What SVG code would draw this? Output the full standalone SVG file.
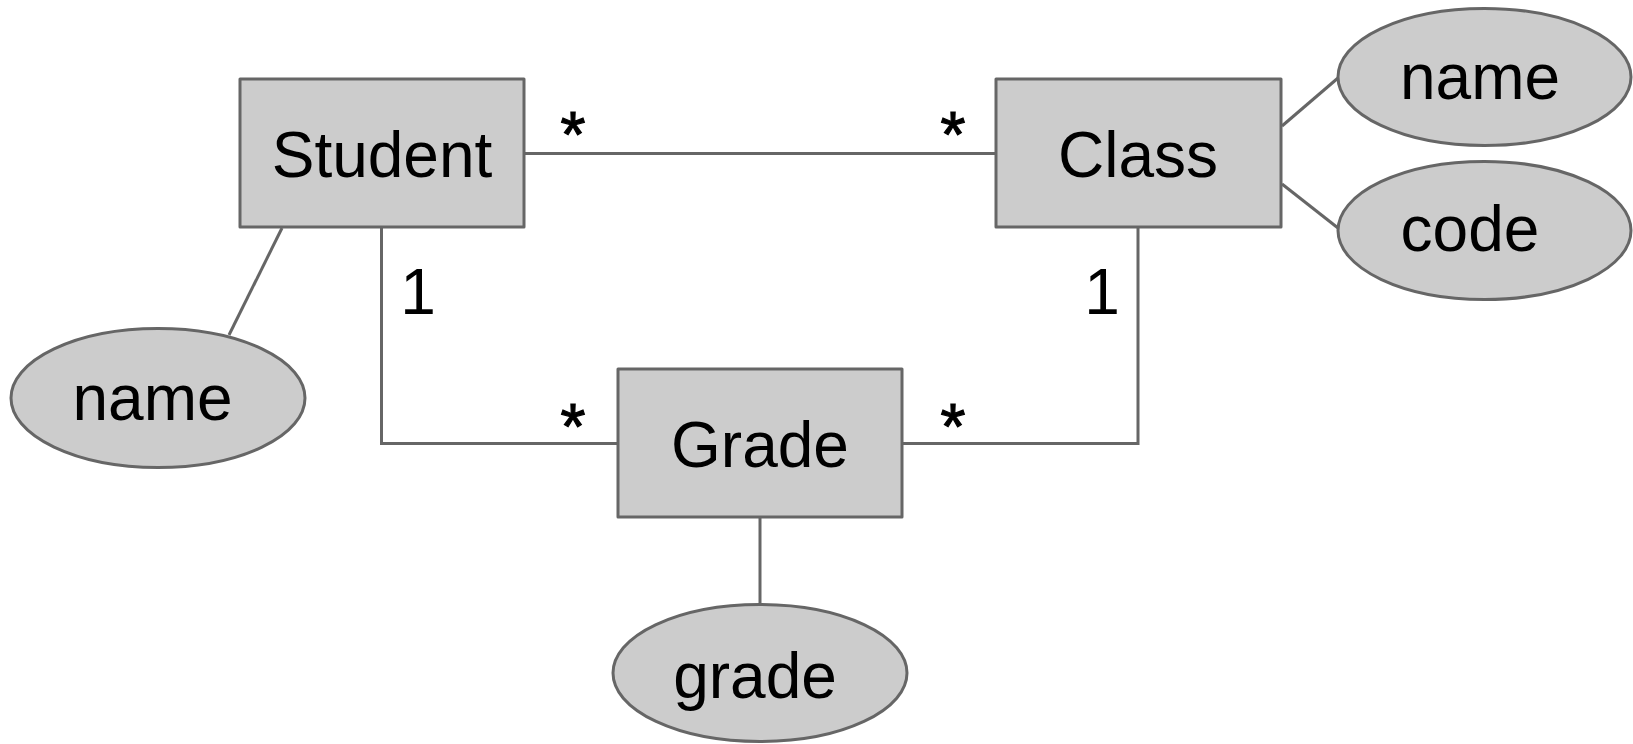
<svg xmlns="http://www.w3.org/2000/svg" width="1633" height="744" viewBox="0 0 1633 744">
  <style>
    .entity { fill: #cccccc; stroke: #666666; stroke-width: 3; stroke-linejoin: round; }
    .attr { fill: #cccccc; stroke: #666666; stroke-width: 3; }
    .link { fill: none; stroke: #666666; stroke-width: 3; }
    .label { font-family: "Liberation Sans", Arial, sans-serif; font-size: 64px; fill: #000000; text-anchor: middle; }
    .mult { stroke: #000000; stroke-width: 1.2; }
  </style>
  <rect width="1633" height="744" fill="#ffffff"/>

  <!-- connectors with multiplicity labels -->
  <g id="connectors">
    <line class="link" x1="524" y1="153.5" x2="995" y2="153.5"/>
    <polyline class="link" points="381.5,227 381.5,443.5 618,443.5"/>
    <polyline class="link" points="1138,227 1138,443.5 902,443.5"/>
    <line class="link" x1="760" y1="517.5" x2="760" y2="605"/>
    <line class="link" x1="282" y1="228" x2="229" y2="335"/>
    <line class="link" x1="1282" y1="126" x2="1338" y2="78"/>
    <line class="link" x1="1282" y1="184" x2="1338" y2="228"/>
    <text class="label mult" x="573" y="157">*</text>
    <text class="label mult" x="953" y="157">*</text>
    <text class="label" x="418" y="314">1</text>
    <text class="label" x="1102" y="314">1</text>
    <text class="label mult" x="573" y="449">*</text>
    <text class="label mult" x="953" y="449">*</text>
  </g>

  <g id="student">
    <rect class="entity" x="240" y="79" width="284" height="148"/>
    <text class="label" x="382" y="177">Student</text>
  </g>

  <g id="class">
    <rect class="entity" x="996" y="79" width="285" height="148"/>
    <text class="label" x="1138" y="177">Class</text>
  </g>

  <g id="grade">
    <rect class="entity" x="618" y="369" width="284" height="148"/>
    <text class="label" x="760" y="467">Grade</text>
  </g>

  <g id="student-name">
    <ellipse class="attr" cx="158" cy="398" rx="147" ry="69.5"/>
    <text class="label" x="152.5" y="420">name</text>
  </g>

  <g id="class-name">
    <ellipse class="attr" cx="1484.5" cy="77" rx="146.5" ry="68.5"/>
    <text class="label" x="1480" y="99">name</text>
  </g>

  <g id="class-code">
    <ellipse class="attr" cx="1484.5" cy="230.5" rx="146.5" ry="69"/>
    <text class="label" x="1470" y="251">code</text>
  </g>

  <g id="grade-value">
    <ellipse class="attr" cx="760" cy="673" rx="147" ry="68.5"/>
    <text class="label" x="755" y="698">grade</text>
  </g>
</svg>
